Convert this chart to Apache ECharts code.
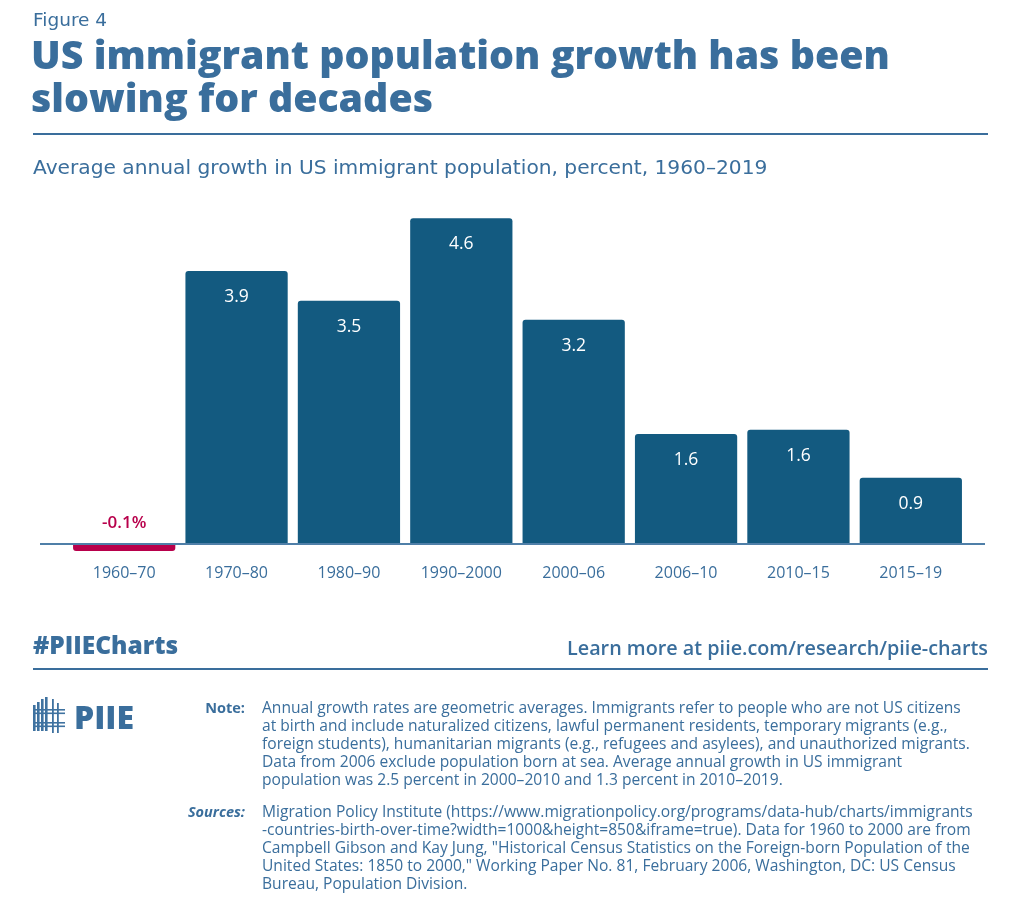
<!DOCTYPE html>
<html><head><meta charset="utf-8">
<script src="https://cdn.jsdelivr.net/npm/echarts@6/dist/echarts.min.js"></script>
<style>html,body{margin:0;padding:0;background:#fff}#c{width:1024px;height:921px}</style>
</head><body><div id="c"></div>
<script>
const categories = ['1960–70','1970–80','1980–90','1990–2000','2000–06','2006–10','2010–15','2015–19'];
const growth = [-0.1, 3.87, 3.45, 4.62, 3.18, 1.56, 1.62, 0.94];
const noteLines = [
 'Annual growth rates are geometric averages. Immigrants refer to people who are not US citizens',
 'at birth and include naturalized citizens, lawful permanent residents, temporary migrants (e.g.,',
 'foreign students), humanitarian migrants (e.g., refugees and asylees), and unauthorized migrants.',
 'Data from 2006 exclude population born at sea. Average annual growth in US immigrant',
 'population was 2.5 percent in 2000–2010 and 1.3 percent in 2010–2019.'
];
const sourceLines = [
 'Migration Policy Institute (https://www.migrationpolicy.org/programs/data-hub/charts/immigrants',
 '-countries-birth-over-time?width=1000&height=850&iframe=true). Data for 1960 to 2000 are from',
 'Campbell Gibson and Kay Jung, "Historical Census Statistics on the Foreign-born Population of the',
 'United States: 1850 to 2000," Working Paper No. 81, February 2006, Washington, DC: US Census',
 'Bureau, Population Division.'
];

const BLUE = '#3a6e9c', BAR = '#135a80', NEG = '#b8004b';
const SANS = '"Open Sans", "Noto Sans", sans-serif';
const WIDE = '"DejaVu Sans", "Open Sans", sans-serif';

const chart = echarts.init(document.getElementById('c'), null, {renderer:'canvas'});

function txt(x, y, text, font, color, align) {
  return {type:'text', x:x, y:y, silent:true,
    style:{text:text, font:font, fill:color, textAlign:align||'left', textVerticalAlign:'middle', verticalAlign:'middle'}};
}
function rect(x, y, w, h, color) {
  return {type:'rect', shape:{x:x, y:y, width:w, height:h}, style:{fill:color}, silent:true};
}

function staticGraphics(axisY) {
  const g = [];
  g.push(txt(33, 21, 'Figure 4', '18.5px ' + WIDE, BLUE));
  g.push(txt(31, 58, 'US immigrant population growth has been', '800 39.3px ' + SANS, BLUE));
  g.push(txt(31, 101, 'slowing for decades', '800 39.3px ' + SANS, BLUE));
  g.push(rect(33, 133, 955, 2, BLUE));
  g.push(txt(33, 169, 'Average annual growth in US immigrant population, percent, 1960–2019', '20.2px ' + WIDE, BLUE));
  g.push(txt(33, 647, '#PIIECharts', '800 24.5px ' + SANS, BLUE));
  g.push(txt(988, 649, 'Learn more at piie.com/research/piie-charts', '600 19.8px ' + SANS, BLUE, 'right'));
  g.push(rect(33, 668, 955, 2, BLUE));
  // logo
  g.push(txt(74, 720, 'PIIE', '800 32px ' + SANS, BLUE));
  const lg = '#3f72a0';
  [[33,705],[37,702],[41,699],[45,697]].forEach(function(p){ g.push(rect(p[0], p[1], 2.6, 731-p[1], lg)); });
  [[52,699],[57,703]].forEach(function(p){ g.push(rect(p[0], p[1], 1.8, 733-p[1], lg)); });
  [709,712.5,722,725.5].forEach(function(y){ g.push(rect(33, y, 32, 1.6, lg)); });
  // notes
  g.push(txt(245, 709, 'Note:', 'bold 14.5px ' + SANS, BLUE, 'right'));
  noteLines.forEach(function(l,i){ g.push(txt(262, 709 + i*17.8, l, '15.6px ' + SANS, BLUE)); });
  g.push(txt(245, 813, 'Sources:', 'italic bold 14.5px ' + SANS, BLUE, 'right'));
  sourceLines.forEach(function(l,i){ g.push(txt(262, 813 + i*17.8, l, '15.6px ' + SANS, BLUE)); });
  if (axisY != null) g.push(Object.assign(rect(40, axisY-1, 945, 2, '#4f7fa8'), {z:10}));
  return g;
}

const option = {
  animation:false,
  grid:{left:68, right:57, top:191.45, height:359.55},
  xAxis:{type:'category', data:categories,
    axisLine:{show:false}, axisTick:{show:false},
    axisLabel:{color:BLUE, fontSize:16, fontFamily:SANS, margin:14, interval:0}},
  yAxis:{type:'value', min:-0.1, max:5, show:false, splitLine:{show:false}},
  series:[{type:'bar', barCategoryGap:'9%',
    data: growth.map(function(v){
      return {value:v,
        itemStyle:{color: v<0?NEG:BAR, borderRadius: v<0?[0,0,3,3]:[3,3,0,0]},
        label: v<0 ? {position:'top', distance:12, color:NEG, fontSize:17, fontWeight:600} : {}};
    }),
    label:{show:true, position:'insideTop', distance:17, color:'#fff', fontSize:17.5, fontWeight:500, fontFamily:SANS,
      formatter:function(p){ return p.value<0 ? p.value.toFixed(1)+'%' : p.value.toFixed(1); }}
  }],
  graphic: staticGraphics(null)
};
chart.setOption(option);
const y0 = chart.convertToPixel({yAxisIndex:0}, 0);
chart.setOption({graphic: staticGraphics(y0)}, {replaceMerge:['graphic']});
</script></body></html>
